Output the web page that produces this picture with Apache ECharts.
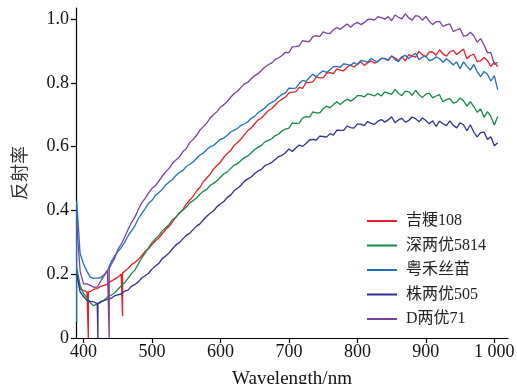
<!DOCTYPE html>
<html>
<head>
<meta charset="utf-8">
<script src="https://cdn.jsdelivr.net/npm/echarts@6/dist/echarts.min.js"></script>
<style>
html,body{margin:0;padding:0;background:#fff;}
#chart{width:517px;height:384px;}
</style>
</head>
<body>
<div id="chart"></div>
<script>
const wavelengths = [390,395,400,405,410,415,420,425,430,435,440,445,450,455,460,465,470,475,480,485,490,495,500,505,510,515,520,525,530,535,540,545,550,555,560,565,570,575,580,585,590,595,600,605,610,615,620,625,630,635,640,645,650,655,660,665,670,675,680,685,690,695,700,705,710,715,720,725,730,735,740,745,750,755,760,765,770,775,780,785,790,795,800,805,810,815,820,825,830,835,840,845,850,855,860,865,870,875,880,885,890,895,900,905,910,915,920,925,930,935,940,945,950,955,960,965,970,975,980,985,990,995,1000,1005];

const seriesNames = ['吉粳108','深两优5814','粤禾丝苗','株两优505','D两优71'];

const jigeng108 = [0.20,0.155,0.149,0.145,0.146,0.153,0.155,0.162,0.165,0.169,0.178,0.184,0.19,0.201,0.209,0.218,0.23,0.237,0.246,0.258,0.272,0.28,0.293,0.305,0.313,0.327,0.34,0.35,0.364,0.379,0.391,0.403,0.42,0.432,0.444,0.461,0.472,0.49,0.502,0.514,0.53,0.541,0.552,0.567,0.579,0.588,0.604,0.613,0.624,0.638,0.651,0.659,0.672,0.684,0.69,0.702,0.713,0.72,0.731,0.742,0.749,0.755,0.769,0.771,0.772,0.786,0.783,0.801,0.802,0.803,0.819,0.816,0.816,0.83,0.832,0.829,0.844,0.84,0.838,0.849,0.856,0.85,0.859,0.866,0.855,0.863,0.869,0.862,0.868,0.877,0.877,0.872,0.884,0.878,0.87,0.882,0.869,0.889,0.884,0.881,0.899,0.888,0.882,0.897,0.897,0.887,0.904,0.891,0.884,0.897,0.902,0.889,0.898,0.906,0.876,0.886,0.89,0.867,0.869,0.88,0.87,0.852,0.865,0.851];

const shenliangyou5814 = [0.22,0.165,0.139,0.127,0.11,0.101,0.107,0.114,0.118,0.129,0.134,0.141,0.152,0.164,0.173,0.187,0.202,0.213,0.232,0.251,0.266,0.283,0.299,0.311,0.321,0.336,0.346,0.356,0.371,0.379,0.393,0.401,0.41,0.423,0.431,0.439,0.451,0.46,0.466,0.479,0.485,0.493,0.504,0.515,0.521,0.532,0.542,0.547,0.557,0.566,0.571,0.581,0.591,0.598,0.604,0.615,0.62,0.625,0.635,0.639,0.65,0.655,0.658,0.675,0.673,0.674,0.69,0.694,0.693,0.709,0.706,0.706,0.719,0.727,0.722,0.732,0.741,0.732,0.742,0.749,0.743,0.75,0.76,0.76,0.756,0.766,0.763,0.759,0.767,0.759,0.772,0.768,0.764,0.78,0.767,0.76,0.774,0.772,0.761,0.777,0.763,0.754,0.765,0.768,0.753,0.759,0.763,0.741,0.748,0.751,0.737,0.74,0.753,0.744,0.727,0.741,0.726,0.708,0.718,0.692,0.71,0.695,0.668,0.695];

const yuehesimiao = [0.43,0.265,0.232,0.209,0.19,0.187,0.188,0.189,0.198,0.21,0.238,0.255,0.271,0.283,0.30,0.32,0.336,0.352,0.374,0.39,0.406,0.423,0.432,0.447,0.456,0.466,0.48,0.489,0.497,0.51,0.519,0.525,0.538,0.544,0.552,0.563,0.574,0.58,0.591,0.60,0.604,0.614,0.623,0.627,0.636,0.646,0.652,0.657,0.667,0.672,0.678,0.689,0.695,0.707,0.714,0.721,0.733,0.739,0.745,0.756,0.764,0.769,0.784,0.783,0.784,0.798,0.808,0.805,0.817,0.827,0.819,0.83,0.838,0.833,0.841,0.851,0.852,0.849,0.86,0.858,0.855,0.864,0.857,0.871,0.868,0.865,0.877,0.87,0.866,0.877,0.876,0.87,0.885,0.873,0.867,0.881,0.887,0.876,0.886,0.893,0.873,0.881,0.884,0.87,0.873,0.882,0.876,0.865,0.876,0.867,0.856,0.866,0.845,0.866,0.852,0.84,0.858,0.835,0.82,0.836,0.827,0.806,0.823,0.778];

const zhuliangyou505 = [0.2,0.145,0.13,0.118,0.115,0.113,0.108,0.112,0.118,0.121,0.124,0.132,0.135,0.138,0.147,0.15,0.162,0.168,0.176,0.188,0.195,0.203,0.216,0.226,0.234,0.249,0.257,0.267,0.28,0.292,0.299,0.311,0.322,0.328,0.34,0.351,0.358,0.37,0.382,0.391,0.399,0.412,0.42,0.428,0.441,0.448,0.462,0.47,0.479,0.492,0.499,0.505,0.516,0.524,0.529,0.541,0.545,0.551,0.56,0.569,0.573,0.581,0.593,0.585,0.596,0.605,0.601,0.61,0.621,0.623,0.621,0.633,0.632,0.63,0.641,0.636,0.652,0.651,0.651,0.665,0.66,0.658,0.671,0.671,0.666,0.679,0.673,0.67,0.68,0.685,0.677,0.684,0.694,0.675,0.684,0.689,0.677,0.682,0.693,0.688,0.678,0.69,0.682,0.672,0.681,0.664,0.68,0.672,0.666,0.681,0.667,0.659,0.675,0.669,0.65,0.669,0.646,0.631,0.644,0.646,0.623,0.631,0.603,0.612];

const dliangyou71 = [0.36,0.21,0.17,0.17,0.165,0.159,0.16,0.178,0.195,0.213,0.229,0.248,0.277,0.294,0.316,0.34,0.362,0.379,0.403,0.424,0.438,0.455,0.469,0.478,0.492,0.508,0.521,0.532,0.548,0.558,0.568,0.584,0.594,0.612,0.623,0.635,0.652,0.663,0.674,0.69,0.701,0.71,0.724,0.732,0.742,0.755,0.767,0.774,0.786,0.797,0.802,0.813,0.823,0.829,0.84,0.85,0.857,0.863,0.874,0.879,0.886,0.896,0.895,0.913,0.914,0.916,0.933,0.93,0.93,0.945,0.948,0.945,0.96,0.956,0.955,0.967,0.974,0.968,0.977,0.985,0.975,0.984,0.99,0.983,0.989,0.999,1.0,0.997,1.008,1.005,1.0,1.008,0.995,1.013,1.006,1.001,1.017,1.004,0.997,1.011,1.009,0.996,1.009,0.993,0.983,0.992,0.993,0.977,0.982,0.985,0.961,0.966,0.97,0.947,0.949,0.959,0.948,0.928,0.939,0.919,0.895,0.895,0.858,0.865];

// single-sample dropouts (vertical spikes)
const jigengSpikes = [{nm:407, top:0.145, bottom:0}, {nm:457, top:0.204, bottom:0.068}];
const shenSpikes = [];
const yueheSpikes = [{nm:390, top:0.43, bottom:0.05}];
const zhuSpikes = [{nm:421, top:0.108, bottom:0}];
const dSpikes = [{nm:437.5, top:0.218, bottom:0}];

const xTickValues = [400,500,600,700,800,900,1000];
const xTickLabels = ['400','500','600','700','800','900','1 000'];
const yTickValues = [0,0.2,0.4,0.6,0.8,1.0];
const yTickLabels = ['0','0.2','0.4','0.6','0.8','1.0'];

const colors = ['#ee1c25','#128a48','#1f70c1','#2e3192','#7a3f9f'];

function build(vals, spikes){
  const out = [];
  let s = 0;
  for (let i = 0; i < wavelengths.length; i++){
    while (s < spikes.length && spikes[s].nm <= wavelengths[i]){
      const sp = spikes[s];
      out.push([sp.nm, sp.top],[sp.nm, sp.bottom],[sp.nm, sp.top]);
      s++;
    }
    out.push([wavelengths[i], vals[i]]);
  }
  return out;
}

const allVals = [jigeng108, shenliangyou5814, yuehesimiao, zhuliangyou505, dliangyou71];
const allSpikes = [jigengSpikes, shenSpikes, yueheSpikes, zhuSpikes, dSpikes];

const chart = echarts.init(document.getElementById('chart'), null, {renderer:'canvas'});
const serif = '"Liberation Serif", "Times New Roman", serif';
const cjkSerif = '"Liberation Serif", "Noto Sans CJK SC", serif';

chart.setOption({
  backgroundColor: '#ffffff',
  animation: false,
  grid: {left: 76, right: 9, top: 8, bottom: 46, containLabel: false, outerBoundsMode: 'none'},
  legend: {
    orient: 'vertical',
    left: 362,
    top: 208,
    itemWidth: 30,
    itemHeight: 12,
    itemGap: 8.5,
    icon: 'path://M0,5 L30,5 L30,7 L0,7 Z',
    data: seriesNames,
    textStyle: {fontFamily: cjkSerif, fontSize: 16, color: '#222', padding: [0,0,0,4]}
  },
  xAxis: {
    type: 'value',
    min: 389,
    max: 1020,
    name: 'Wavelength/nm',
    nameLocation: 'middle',
    nameGap: 32,
    nameTextStyle: {fontFamily: serif, fontSize: 19, color: '#111'},
    axisLine: {show: true, lineStyle: {color: '#000', width: 1.2}},
    axisTick: {show: true, inside: false, length: 5, customValues: xTickValues, lineStyle: {color: '#000', width: 1.2}},
    axisLabel: {
      customValues: xTickValues,
      margin: 5,
      fontFamily: serif, fontSize: 18, color: '#111',
      formatter: function(v){ const i = xTickValues.indexOf(v); return i >= 0 ? xTickLabels[i] : ''; }
    },
    splitLine: {show: false}
  },
  yAxis: {
    type: 'value',
    min: 0,
    max: 1.035,
    name: '反射率',
    nameLocation: 'middle',
    nameRotate: 90,
    nameGap: 48,
    nameTextStyle: {fontFamily: '"Noto Sans CJK SC", sans-serif', fontSize: 18, color: '#333'},
    axisLine: {show: true, lineStyle: {color: '#000', width: 1.2}},
    axisTick: {show: true, inside: false, length: 5, customValues: yTickValues, lineStyle: {color: '#000', width: 1.2}},
    axisLabel: {
      customValues: yTickValues,
      margin: 7,
      fontFamily: serif, fontSize: 18, color: '#111',
      formatter: function(v){ for (let i=0;i<yTickValues.length;i++){ if (Math.abs(yTickValues[i]-v)<1e-9) return yTickLabels[i]; } return ''; }
    },
    splitLine: {show: false}
  },
  series: seriesNames.map(function(name, k){
    return {
      name: name,
      type: 'line',
      data: build(allVals[k], allSpikes[k]),
      symbol: 'none',
      showSymbol: false,
      clip: true,
      lineStyle: {color: colors[k], width: 1.3},
      itemStyle: {color: colors[k]},
      emphasis: {disabled: true}
    };
  })
});
</script>
</body>
</html>
